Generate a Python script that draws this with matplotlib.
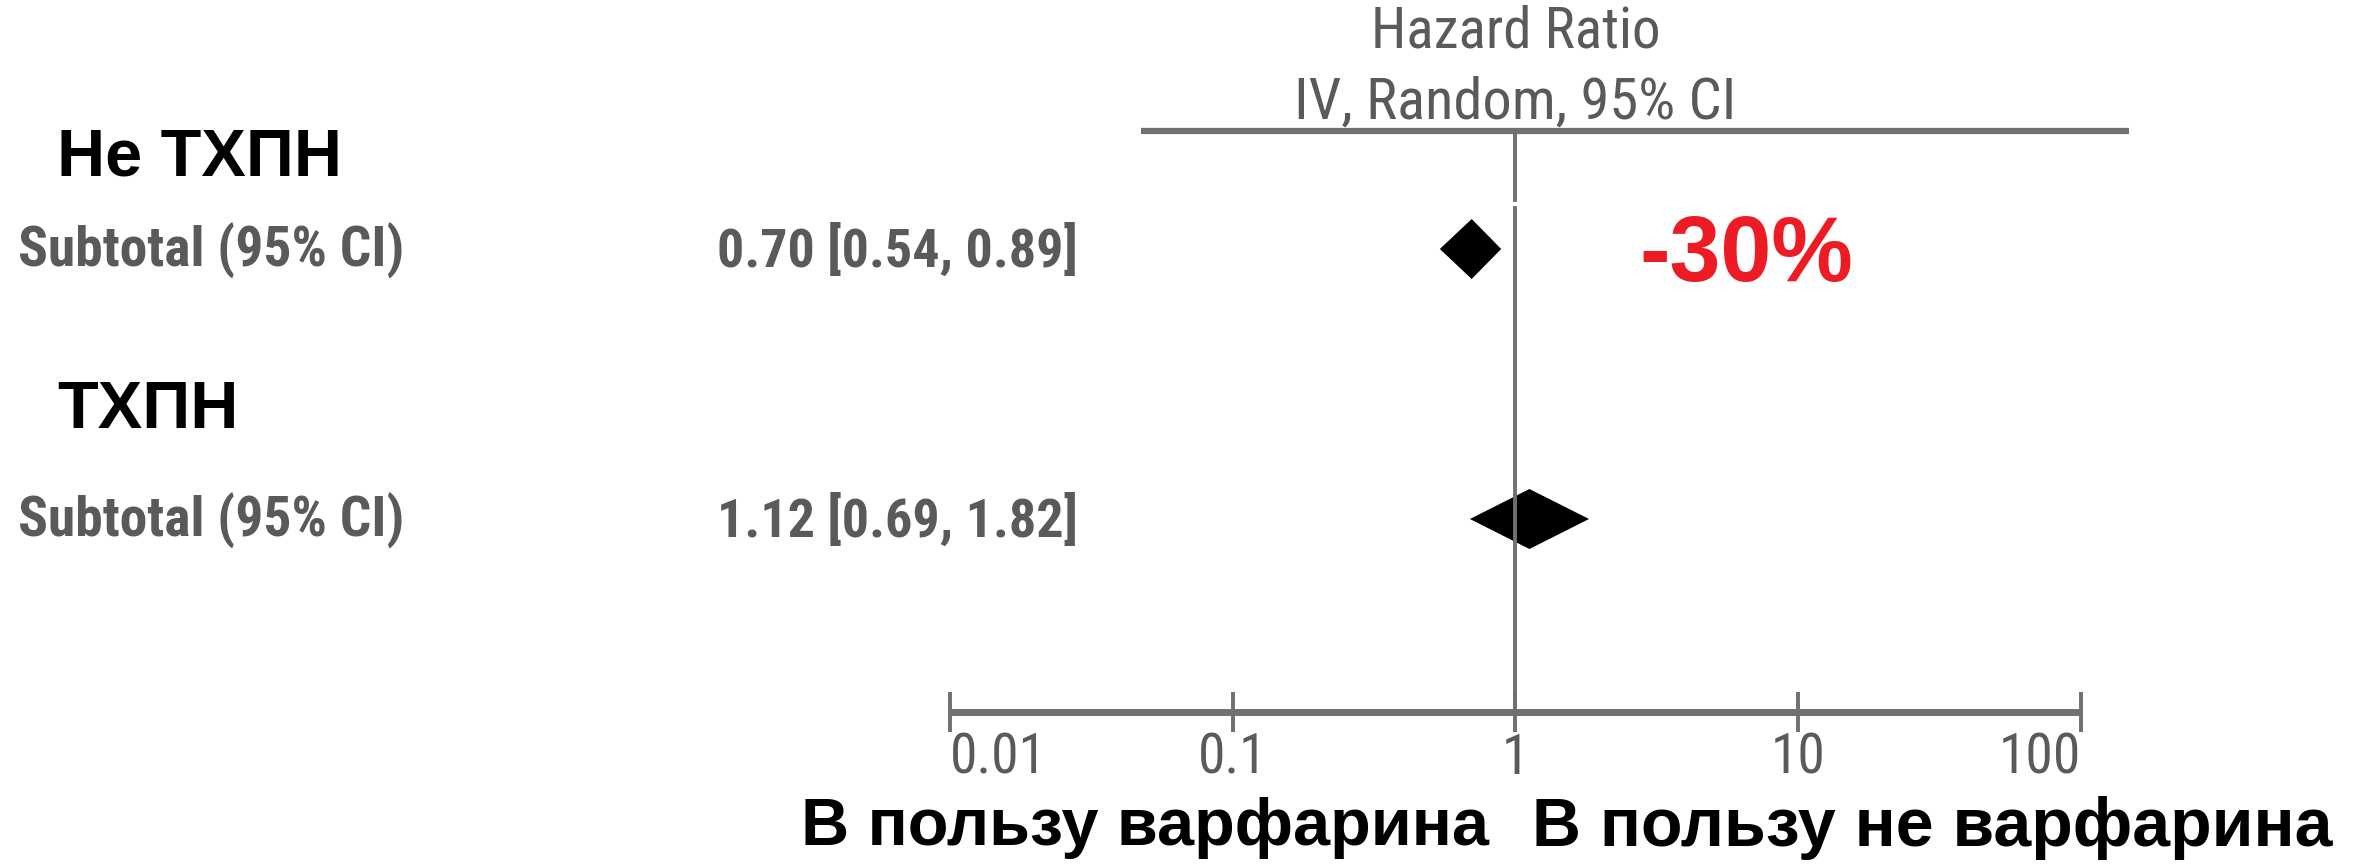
import matplotlib
matplotlib.use("Agg")
import matplotlib.pyplot as plt
from matplotlib import font_manager
import numpy as np

# ---------------- data ----------------
groups = ["Не ТХПН", "ТХПН"]
row_labels = ["Subtotal (95% CI)", "Subtotal (95% CI)"]
hr = [0.70, 1.12]
ci_low = [0.54, 0.69]
ci_high = [0.89, 1.82]
tick_values = [0.01, 0.1, 1, 10, 100]
tick_labels = ["0.01", "0.1", "1", "10", "100"]
header_lines = ["Hazard Ratio", "IV, Random, 95% CI"]
effect_note = "-30%"
favours_left = "В пользу варфарина"
favours_right = "В пользу не варфарина"

# ---------------- fonts ----------------
avail = {f.name for f in font_manager.fontManager.ttflist}
def pick(*names):
    for n in names:
        if n in avail:
            return n
    return "DejaVu Sans"
narrow = pick("Liberation Sans Narrow", "Roboto Condensed", "DejaVu Sans Condensed", "Liberation Sans")
arial = pick("Liberation Sans", "Arimo", "DejaVu Sans")

W, H = 2371, 864
fig = plt.figure(figsize=(W / 100, H / 100), dpi=100)
ax = fig.add_axes([0, 0, 1, 1])
ax.set_xscale("log")
# map 0.01 -> px 950, 100 -> px 2081
px_lo, px_hi = 950.0, 2081.0
dec = (px_hi - px_lo) / 4.0
xmin = 10 ** (-2 - px_lo / dec)
xmax = 10 ** (2 + (W - px_hi) / dec)
ax.set_xlim(xmin, xmax)
ax.set_ylim(H, 0)
ax.axis("off")

def px2x(p):
    return 10 ** (-2 + (p - px_lo) / dec)

gray_line = "#707070"
gray_text = "#5a5a5a"

# header line and header text
ax.plot([px2x(1141), px2x(2129)], [131, 131], color=gray_line, lw=4.5, solid_capstyle="butt")
ax.text(1, 32, header_lines[0], ha="center", va="center", fontsize=41,
        color=gray_text, family=narrow)
ax.text(1, 103, header_lines[1], ha="center", va="center", fontsize=42,
        color=gray_text, family=narrow)

# vertical line of no effect
ax.plot([1, 1], [131, 200], color=gray_line, lw=2.8)
ax.plot([1, 1], [208, 712], color=gray_line, lw=2.8)

# bottom axis
axis_y = 712
ax.plot([tick_values[0], tick_values[-1]], [axis_y, axis_y], color=gray_line, lw=5,
        solid_capstyle="butt")
ax.vlines(tick_values, axis_y - 20, axis_y + 20, color=gray_line, lw=2.8)
for i, (tv, tl) in enumerate(zip(tick_values, tick_labels)):
    ha = "left" if i == 0 else ("right" if i == len(tick_values) - 1 else "center")
    ax.text(tv, 758, tl, ha=ha, va="center", fontsize=40, color=gray_text, family=narrow)

# rows
group_y = [159, 411]
row_y = [249, 519]
diamond_h = 60
for g, gy, lab, ry, est, lo, hi in zip(groups, group_y, row_labels, row_y, hr, ci_low, ci_high):
    fig.text(57 / W, 1 - gy / H, g, ha="left", va="center", fontsize=48,
             fontweight="bold", color="black", family=arial)
    fig.text(18 / W, 1 - (ry + 2) / H, lab, ha="left", va="center", fontsize=40,
             fontweight="bold", color=gray_text, family=narrow)
    fig.text(1078 / W, 1 - (ry + 2) / H, f"{est:.2f} [{lo:.2f}, {hi:.2f}]", ha="right",
             va="center", fontsize=39, fontweight="bold", color=gray_text, family=narrow)
    ax.fill([lo, est, hi, est], [ry, ry - diamond_h / 2, ry, ry + diamond_h / 2],
            color="black", lw=0)

# effect annotation
fig.text(1746 / W, 1 - 257 / H, effect_note, ha="center", va="center", fontsize=66,
         fontweight="bold", color="#ED1C24", family=arial)

# favours labels
fig.text(801 / W, 1 - 828 / H, favours_left, ha="left", va="center", fontsize=48,
         fontweight="bold", color="black", family=arial)
fig.text(2333 / W, 1 - 828 / H, favours_right, ha="right", va="center", fontsize=49,
         fontweight="bold", color="black", family=arial)

fig.savefig("out.png", dpi=100, facecolor="white")
